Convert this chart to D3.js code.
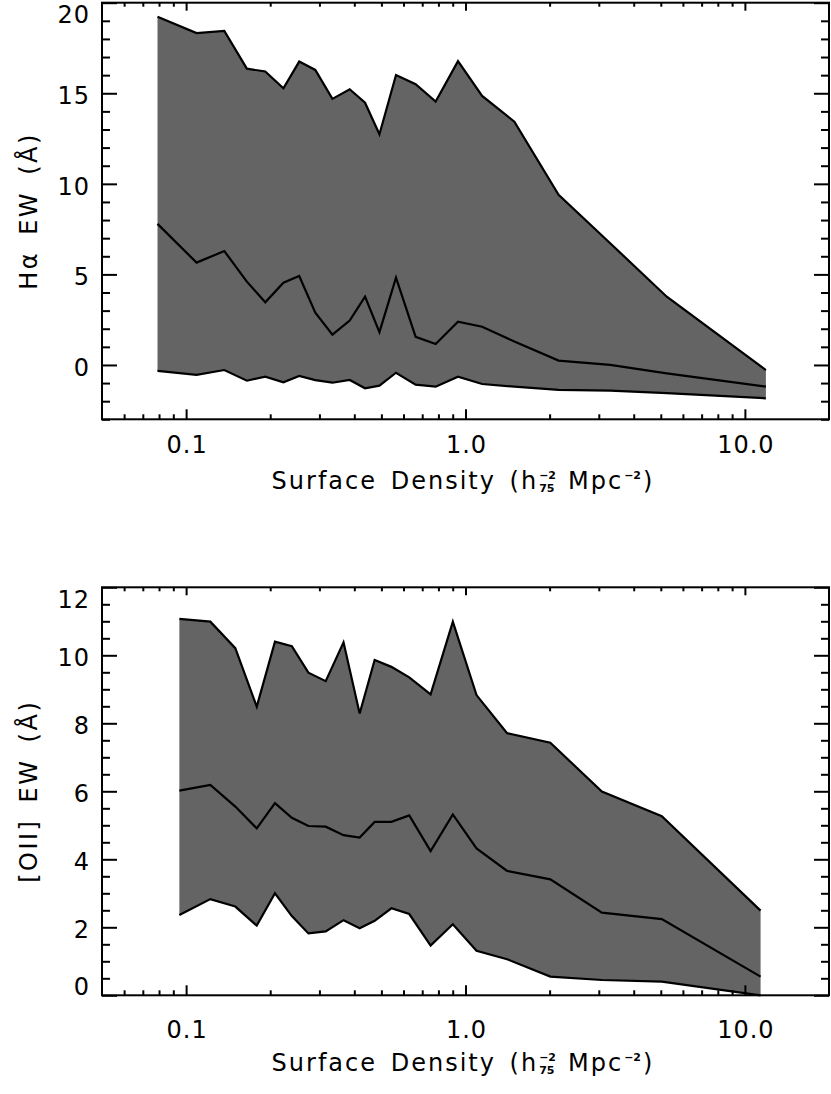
<!DOCTYPE html>
<html><head><meta charset="utf-8">
<script src="https://cdn.jsdelivr.net/npm/d3@7/dist/d3.min.js"></script>
<style>
body{margin:0;background:#fff}
svg{display:block}
text{font-family:"DejaVu Sans",sans-serif;fill:#000}
</style>
</head><body>
<svg id="chart" width="831" height="1094"></svg>
<script>
// ---------- data ----------
const haDensity = [0.079, 0.109, 0.137, 0.165, 0.192, 0.223, 0.254, 0.290, 0.334, 0.385, 0.437, 0.492, 0.564, 0.663, 0.782, 0.940, 1.147, 1.496, 2.154, 3.295, 5.253, 11.89];
const haUpper   = [19.23, 18.32, 18.44, 16.36, 16.20, 15.28, 16.75, 16.29, 14.69, 15.22, 14.48, 12.74, 16.01, 15.50, 14.54, 16.77, 14.85, 13.43, 9.39, 6.72, 3.77, -0.28];
const haMedian  = [7.79, 5.65, 6.29, 4.60, 3.46, 4.54, 4.91, 2.89, 1.67, 2.45, 3.77, 1.81, 4.82, 1.55, 1.16, 2.39, 2.11, 1.29, 0.24, 0.00, -0.46, -1.20];
const haLower   = [-0.33, -0.55, -0.28, -0.87, -0.65, -0.96, -0.61, -0.84, -0.98, -0.83, -1.29, -1.14, -0.43, -1.09, -1.20, -0.65, -1.05, -1.20, -1.38, -1.42, -1.56, -1.84];

const oiiDensity = [0.0946, 0.1221, 0.150, 0.179, 0.208, 0.239, 0.274, 0.316, 0.366, 0.418, 0.473, 0.543, 0.629, 0.750, 0.901, 1.095, 1.409, 2.012, 3.077, 5.042, 11.38];
const oiiUpper   = [11.07, 10.99, 10.21, 8.49, 10.40, 10.27, 9.49, 9.24, 10.38, 8.29, 9.86, 9.66, 9.35, 8.85, 10.99, 8.83, 7.71, 7.43, 5.99, 5.27, 2.49];
const oiiMedian  = [6.02, 6.19, 5.55, 4.91, 5.65, 5.22, 4.98, 4.96, 4.71, 4.64, 5.10, 5.10, 5.29, 4.24, 5.32, 4.32, 3.66, 3.41, 2.43, 2.24, 0.55];
const oiiLower   = [2.36, 2.83, 2.61, 2.05, 3.00, 2.33, 1.82, 1.88, 2.21, 1.97, 2.19, 2.56, 2.39, 1.46, 2.09, 1.31, 1.06, 0.55, 0.45, 0.40, 0.00];

const xDomain = [0.05, 20];
const xMajorTicks = [0.1, 1, 10];
const xTickLabels = ["0.1", "1.0", "10.0"];
const xMinorTicks = [0.06,0.07,0.08,0.09, 0.2,0.3,0.4,0.5,0.6,0.7,0.8,0.9, 2,3,4,5,6,7,8,9];

const haYDomain = [-3, 20];
const haYMajor = [0, 5, 10, 15, 20];
const haYLabels = ["0", "5", "10", "15", "20"];
const haYMinor = [-3,-2,-1,1,2,3,4,6,7,8,9,11,12,13,14,16,17,18,19];

const oiiYDomain = [0, 12];
const oiiYMajor = [0, 2, 4, 6, 8, 10, 12];
const oiiYLabels = ["0", "2", "4", "6", "8", "10", "12"];
const oiiYMinor = [0.5,1,1.5,2.5,3,3.5,4.5,5,5.5,6.5,7,7.5,8.5,9,9.5,10.5,11,11.5];

const xTitleMain = "Surface Density (h";
const xTitleSub = "75";
const xTitleSup = "\u22122";
const xTitleUnit = "Mpc";

// ---------- drawing ----------
const svg = d3.select("#chart");
const FS = 24, SMALL = 11;

function drawPanel(p) {
  const g = svg.append("g");
  const x = d3.scaleLog().domain(xDomain).range([p.left, p.right]);
  const y = d3.scaleLinear().domain(p.yDomain).range([p.bottom, p.top]);

  const rows = p.density.map((d, i) => ({d, u: p.upper[i], m: p.median[i], l: p.lower[i]}));

  g.append("path").datum(rows)
    .attr("fill", "#646464")
    .attr("d", d3.area().x(r => x(r.d)).y0(r => y(r.l)).y1(r => y(r.u)));

  ["u", "m", "l"].forEach(k => {
    g.append("path").datum(rows)
      .attr("fill", "none").attr("stroke", "#000").attr("stroke-width", 2.2)
      .attr("stroke-linejoin", "miter")
      .attr("d", d3.line().x(r => x(r.d)).y(r => y(r[k])));
  });

  const tickStyle = sel => { sel.select(".domain").remove(); sel.selectAll("line").attr("stroke", "#000").attr("stroke-width", 2); sel.selectAll("text").remove(); };
  g.append("g").attr("transform", `translate(0,${p.bottom})`)
    .call(d3.axisBottom(x).tickValues(xMajorTicks).tickSize(-10).tickFormat("")).call(tickStyle);
  g.append("g").attr("transform", `translate(0,${p.bottom})`)
    .call(d3.axisBottom(x).tickValues(xMinorTicks).tickSize(-5).tickFormat("")).call(tickStyle);
  g.append("g").attr("transform", `translate(0,${p.top})`)
    .call(d3.axisTop(x).tickValues(xMajorTicks).tickSize(-8).tickFormat("")).call(tickStyle);
  g.append("g").attr("transform", `translate(0,${p.top})`)
    .call(d3.axisTop(x).tickValues(xMinorTicks).tickSize(-4).tickFormat("")).call(tickStyle);
  g.append("g").attr("transform", `translate(${p.left},0)`)
    .call(d3.axisLeft(y).tickValues(p.yMajor).tickSize(-15).tickFormat("")).call(tickStyle);
  g.append("g").attr("transform", `translate(${p.left},0)`)
    .call(d3.axisLeft(y).tickValues(p.yMinor).tickSize(-8).tickFormat("")).call(tickStyle);
  g.append("g").attr("transform", `translate(${p.right},0)`)
    .call(d3.axisRight(y).tickValues(p.yMajor).tickSize(-15).tickFormat("")).call(tickStyle);
  g.append("g").attr("transform", `translate(${p.right},0)`)
    .call(d3.axisRight(y).tickValues(p.yMinor).tickSize(-8).tickFormat("")).call(tickStyle);

  g.append("rect").attr("x", p.left).attr("y", p.top)
    .attr("width", p.right - p.left).attr("height", p.bottom - p.top)
    .attr("fill", "none").attr("stroke", "#000").attr("stroke-width", 2);

  p.yMajor.forEach((v, i) => {
    const cy = Math.max(p.top + 12, Math.min(p.bottom - 9, y(v) + 2));
    g.append("text").attr("x", p.left - 12).attr("y", cy + 8.7)
      .attr("text-anchor", "end").attr("font-size", FS).attr("letter-spacing", 1).text(p.yLabels[i]);
  });
  xMajorTicks.forEach((v, i) => {
    g.append("text").attr("x", x(v) + 1).attr("y", p.bottom + p.xLabelOff + 8.7)
      .attr("text-anchor", "middle").attr("font-size", FS).attr("letter-spacing", 1).text(xTickLabels[i]);
  });

  // x title: main text, then stacked script placed as separate text elements
  const ty = p.bottom + p.titleOff + 8.7;
  const tg = g.append("g");
  const t1 = tg.append("text").attr("y", ty).attr("font-size", FS)
    .attr("letter-spacing", 2).attr("word-spacing", 4).text(xTitleMain);
  const sub = tg.append("text").attr("y", ty + 3).attr("font-size", SMALL).attr("font-weight", "bold").text(xTitleSub);
  const sup1 = tg.append("text").attr("y", ty - 10).attr("font-size", SMALL).attr("font-weight", "bold").text(xTitleSup);
  const t2 = tg.append("text").attr("y", ty).attr("font-size", FS)
    .attr("letter-spacing", 2).text(xTitleUnit);
  const sup2 = tg.append("text").attr("y", ty - 10).attr("font-size", SMALL).attr("font-weight", "bold").text(xTitleSup);
  const t3 = tg.append("text").attr("y", ty).attr("font-size", FS).text(")");
  const w1 = t1.node().getComputedTextLength();
  const wS = Math.max(sub.node().getComputedTextLength(), sup1.node().getComputedTextLength());
  const w2 = t2.node().getComputedTextLength();
  const w4 = sup2.node().getComputedTextLength();
  const w3 = t3.node().getComputedTextLength();
  const gap = 12;
  const total = w1 + 1 + wS + gap + w2 + 2 + w4 + 2 + w3;
  let cx = (p.left + p.right) / 2 - 3 - total / 2;
  t1.attr("x", cx); cx += w1 + 1;
  sub.attr("x", cx); sup1.attr("x", cx); cx += wS + gap;
  t2.attr("x", cx); cx += w2 + 1;
  sup2.attr("x", cx); cx += w4 + 2;
  t3.attr("x", cx);

  g.append("text")
    .attr("transform", `translate(${p.ytitleX},${(p.top + p.bottom) / 2}) rotate(-90)`)
    .attr("text-anchor", "middle").attr("font-size", FS).attr("letter-spacing", 2.5).attr("word-spacing", 6)
    .text(p.ytitle);
}

drawPanel({
  left: 102, right: 829, top: 2.7, bottom: 419.3,
  yDomain: haYDomain, yMajor: haYMajor, yLabels: haYLabels, yMinor: haYMinor,
  density: haDensity, upper: haUpper, median: haMedian, lower: haLower,
  xLabelOff: 25, titleOff: 61, ytitleX: 37, ytitle: "H\u03B1 EW (\u00C5)"
});
drawPanel({
  left: 102, right: 829, top: 587.3, bottom: 995.3,
  yDomain: oiiYDomain, yMajor: oiiYMajor, yLabels: oiiYLabels, yMinor: oiiYMinor,
  density: oiiDensity, upper: oiiUpper, median: oiiMedian, lower: oiiLower,
  xLabelOff: 34, titleOff: 67, ytitleX: 37, ytitle: "[OII] EW (\u00C5)"
});
</script>
</body></html>
